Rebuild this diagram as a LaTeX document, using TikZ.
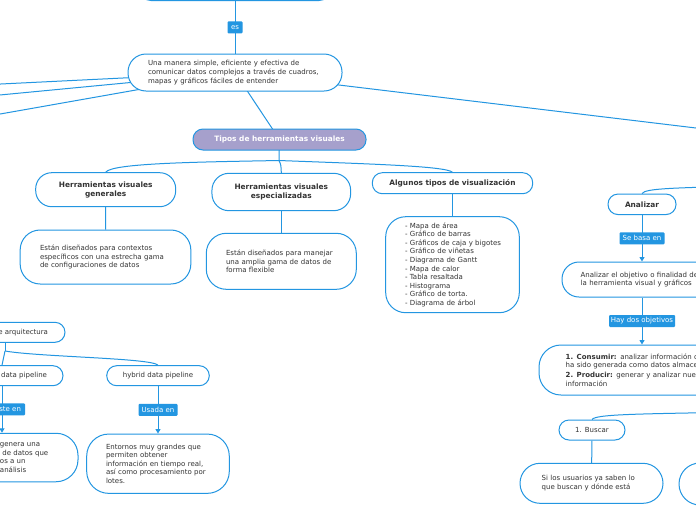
\documentclass[tikz,border=0pt]{standalone}
\usepackage{fontspec}
\setmainfont{DejaVu Sans}
\usetikzlibrary{arrows.meta,backgrounds}
\definecolor{mblue}{RGB}{35,150,225}
\definecolor{lav}{RGB}{166,160,204}
\newcommand\fs{\fontsize{7}{8.6}\selectfont}
\newcommand\fb{\fontsize{7.4}{9}\selectfont\bfseries}
\tikzset{
  bx/.style={draw=mblue, line width=1pt, fill=white, rounded corners=#1, inner sep=0pt, align=left, font=\fs, text=black!80},
  bx/.default=10pt,
  hd/.style={bx=#1, font=\fb, align=center},
  hd/.default=10pt,
  lbl/.style={fill=mblue, text=white, font=\fs, inner sep=0pt, minimum height=12pt, rounded corners=1pt},
  conn/.style={draw=mblue, line width=1pt},
  arr/.style={conn, -{Triangle[length=4.5pt,width=5pt]}},
}
\begin{document}
\begin{tikzpicture}[x=1pt,y=-1pt]
\useasboundingbox (0,0) rectangle (696,520);
\begin{scope}
\clip (0,0) rectangle (696,520);
% top / centre
\node[bx=12pt, minimum width=192pt, minimum height=41pt] (top) at (235,-20) {};
\node[bx=18pt, minimum width=214pt, minimum height=37pt, text width=174pt] (una) at (235,72.5) {\mbox{Una manera simple, eficiente y efectiva de}\\\mbox{comunicar datos complejos a través de cuadros,}\\\mbox{mapas y gráficos fáciles de entender}};
\node[hd=10pt, fill=lav, text=white, minimum width=173pt, minimum height=21pt] (tipos) at (279.5,139.5) {Tipos de herramientas visuales};
\node[hd=16pt, minimum width=140pt, minimum height=34pt] (gen) at (105.7,189.7) {Herramientas visuales\\generales};
\node[bx=20pt, minimum width=170.7pt, minimum height=54pt, text width=131pt] (gend) at (105.5,257) {\mbox{Están diseñados para contextos}\\\mbox{específicos con una estrecha gama}\\\mbox{de configuraciones de datos}};
\node[hd=17pt, minimum width=138.7pt, minimum height=37.4pt] (esp) at (281.3,192) {Herramientas visuales\\especializadas};
\node[bx=20pt, minimum width=150pt, minimum height=56pt, text width=110.6pt] (espd) at (281.3,261.3) {\mbox{Están diseñados para manejar}\\\mbox{una amplia gama de datos de}\\\mbox{forma flexible}};
\node[hd=10pt, minimum width=160.4pt, minimum height=21pt] (alg) at (452.5,183.2) {Algunos tipos de visualización};
\node[bx=20pt, minimum width=133.6pt, minimum height=96pt, text width=95pt] (lista) at (452.5,264.7) {\mbox{- Mapa de área}\\\mbox{- Gráfico de barras}\\\mbox{- Gráficos de caja y bigotes}\\\mbox{- Gráfico de viñetas}\\\mbox{- Diagrama de Gantt}\\\mbox{- Mapa de calor}\\\mbox{- Tabla resaltada}\\\mbox{- Histograma}\\\mbox{- Gráfico de torta.}\\\mbox{- Diagrama de árbol}};
% right
\node[hd=10pt, minimum width=68pt, minimum height=20.5pt] (ana) at (642,204.3) {Analizar};
\node[bx=17pt, minimum width=160pt, minimum height=35pt, text width=122.6pt] (obj) at (642,279.5) {\mbox{Analizar el objetivo o finalidad de}\\\mbox{la herramienta visual y gráficos}};
\node[bx=22pt, minimum width=206pt, minimum height=50pt, text width=152.6pt] (cons) at (642,370) {\mbox{\textbf{1. Consumir:} analizar información que}\\\mbox{ha sido generada como datos almacenados}\\[1pt]\mbox{\textbf{2. Producir:} generar y analizar nueva}\\\mbox{información}};
\node[bx=10pt, minimum width=66pt, minimum height=20pt] (bus) at (592,430) {1. Buscar};
\node[bx=20pt, minimum width=143pt, minimum height=40pt, text width=99.6pt] (si) at (591.5,483.3) {\mbox{Si los usuarios ya saben lo}\\\mbox{que buscan y dónde está}};
\node[bx=21pt, minimum width=150pt, minimum height=42pt] (sib) at (754,484) {};
% bottom left
\node[bx=10pt, minimum width=120pt, minimum height=20pt] (arq) at (5,332.3) {\makebox[120pt][r]{de arquitectura\hspace{17pt}}};
\node[bx=10pt, minimum width=122pt, minimum height=20pt] (dp) at (2,375.7) {\makebox[122pt][r]{data pipeline\hspace{16pt}}};
\node[bx=10pt, minimum width=102.6pt, minimum height=20pt] (hyb) at (158,375.7) {hybrid data pipeline};
\node[bx=22pt, minimum width=152pt, minimum height=48.5pt] (gen2) at (2,457.5) {\makebox[152pt][l]{\hspace{74pt}genera una}\\\makebox[152pt][l]{\hspace{76.5pt}de datos que}\\\makebox[152pt][l]{\hspace{74pt}os a un}\\\makebox[152pt][l]{\hspace{74pt}análisis}};
\node[bx=22pt, minimum width=142.6pt, minimum height=59.3pt, text width=104pt] (ent) at (158,463.7) {\mbox{Entornos muy grandes que}\\\mbox{permiten obtener}\\\mbox{información en tiempo real,}\\\mbox{así como procesamiento por}\\\mbox{lotes.}};
\end{scope}
\coordinate (L1) at (-40,86);
\coordinate (L2) at (-40,98.8);
\coordinate (L3) at (-40,121.1);
\coordinate (R1) at (740,133.3);
\coordinate (fk) at (279,160.5);
\coordinate (pa) at (740,186);
\coordinate (pb) at (740,412);
\coordinate (fk3) at (5,351);
\begin{pgfonlayer}{background}
\clip (0,0) rectangle (696,520);
\fill[white] (0,0) rectangle (696,520);
\draw[conn] (top) -- node[lbl, minimum width=15pt]{es} (una);
\draw[conn] (una.center) -- (L1);
\draw[conn] (una.center) -- (L2);
\draw[conn] (una.center) -- (L3);
\draw[conn] (una.center) -- (R1);
\draw[conn] (una.center) -- (tipos.center);
\draw[conn] (tipos.center) -- (fk);
\draw[conn] (fk) .. controls (200,162) and (112,163) .. (gen.north);
\draw[conn] (fk) .. controls (281,165) .. (esp.north);
\draw[conn] (fk) .. controls (370,164) and (445,166) .. (alg.north);
\draw[conn] (gen) -- (gend);
\draw[conn] (esp) -- (espd);
\draw[conn] (alg) -- (lista);
\draw[conn] (pa) .. controls (680,188) and (645,188) .. (ana.north);
\draw[arr] (ana) -- node[lbl, minimum width=45pt]{Se basa en} (obj);
\draw[arr] (obj) -- node[lbl, minimum width=66pt]{Hay dos objetivos} (cons);
\draw[conn] (pb) .. controls (640,414) and (596,414) .. (bus.north);
\draw[conn] (bus) -- (si);
\draw[conn] (arq.center) -- (fk3);
\draw[conn] (fk3) .. controls (3,358) .. (dp.north);
\draw[conn] (fk3) .. controls (40,357) and (152,358) .. (hyb.north);
\draw[arr] (dp) -- node[lbl]{\makebox[46pt][r]{ste en\hspace{4pt}}} (gen2);
\draw[arr] (hyb) -- node[lbl, minimum width=39pt]{Usada en} (ent);
\end{pgfonlayer}
\end{tikzpicture}
\end{document}
